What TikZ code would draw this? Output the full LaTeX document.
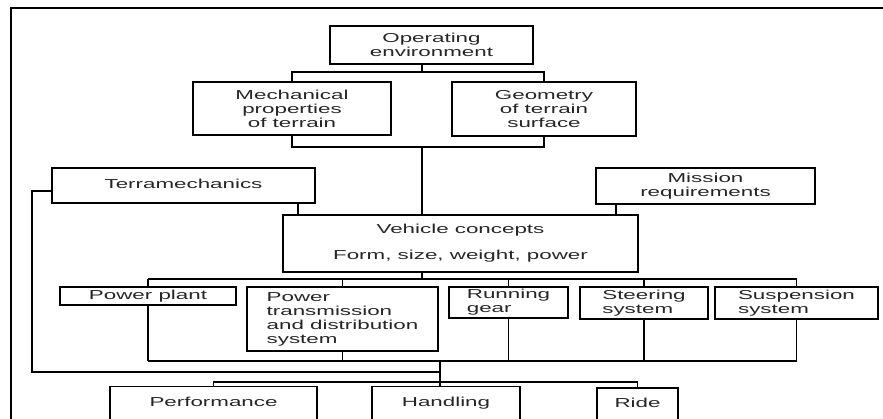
\documentclass[tikz,border=0pt]{standalone}
\usepackage{fontspec}
\setmainfont{Liberation Sans}[FakeStretch=1.72]

\begin{document}
\begin{tikzpicture}[x = 1pt, y = -1pt, % one unit per pixel, y downwards
                line width = 1.5pt, % line style
                font = \fontsize{13}{14}\selectfont
            ]

            \tikzstyle{every node}=[draw = black, rectangle, inner sep = 1pt,
            align = left, text = black!85]
            \tikzstyle{oneline}=[text height = 9.4pt, text depth = 2.6pt]

            \useasboundingbox (0,0) rectangle (883,419);
            \clip (0,0) rectangle (883,419);

            % frame
            \draw (11,430) -- (11,8) -- (890,8);

            \node (oper) [minimum width = 203pt, minimum height = 38pt,
            align = center] at (431.5,45) {Operating\\environment};
            \node (mech) [minimum width = 198pt, minimum height = 53pt,
            align = center] at (292,108.5) {Mechanical\\properties\\of terrain};
            \node (geom) [minimum width = 184pt, minimum height = 54pt,
            align = center] at (544,109) {Geometry\\of terrain\\surface};
            \node (terra) [oneline, minimum width = 263pt, minimum height =
            35pt] at (183.5,185.5) {Terramechanics};
            \node (mission) [minimum width = 219pt, minimum height = 36pt,
            align = center] at (705.5,186) {Mission\\requirements};
            \node (vehicle) [minimum width = 355pt, minimum height = 57pt,
            align = center] at (460.5,243.5) {Vehicle concepts\\[12pt]Form,
            size, weight, power};
            \node (plant) [oneline, minimum width = 176pt, minimum height =
            18pt] at (148,296) {Power plant};
            \node (trans) [minimum width = 191pt, minimum height = 64pt] at
            (342.5,319) {Power\\transmission\\and distribution\\system};
            \node (gear) [minimum width = 119pt, minimum height = 31pt] at
            (508.5,302.5) {Running\\gear};
            \node (steer) [minimum width = 128pt, minimum height = 32pt] at
            (644,303) {Steering\\system};
            \node (susp) [minimum width = 163pt, minimum height = 32pt] at
            (796.5,303) {Suspension\\system};
            \node (perf) [oneline, minimum width = 207pt, minimum height =
            33pt] at (213.5,403) {Performance};
            \node (handl) [oneline, minimum width = 148pt, minimum height =
            33pt] at (446,403) {Handling};
            \node (ride) [oneline, minimum width = 81pt, minimum height =
            32pt] at (637.5,404) {Ride};

            \coordinate (t1) at (422,72); \coordinate (t2) at (422,147);
            \coordinate (t3) at (298,209); \coordinate (t4) at (616,210);
            \coordinate (t5) at (422,279); \coordinate (t6) at (440,361);
            \coordinate (t7) at (32,372); \coordinate (t8) at (440,382);
            \coordinate (t9) at (32,191);

            \draw (oper.south -| t1) -- (t1); \draw (mech.north) |- (t1) -|
            (geom.north); \draw (mech.south) |- (t2) -| (geom.south); \draw
            (t2) -- (vehicle.north -| t2); \draw (terra.south -| t3) --
            (vehicle.north -| t3); \draw (mission.south -| t4) --
            (vehicle.north -| t4);

            \draw (vehicle.south -| t5) -- (t5); \draw (plant.north |- t5) --
            (susp.north |- t5); \draw (plant.south |- t6) -- (susp.south |-
            t6);
            \foreach \n in {plant, trans, gear, steer, susp} {
                \draw (\n.north) -- (\n.north |- t5); \draw (\n.south) --
                (\n.south |- t6); }

            \draw (t6) -- (handl.north -| t6); \draw (terra.west |- t9) --
            (t9) -- (t7) -- (t7 -| t6); \draw (perf.north) |- (t8) -|
            (ride.north);
            \end{tikzpicture}
\end{document}
